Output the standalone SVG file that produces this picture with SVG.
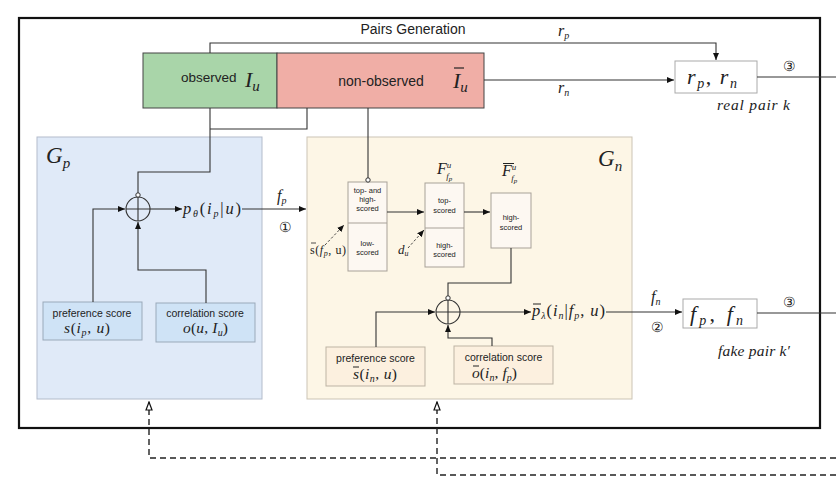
<svg xmlns="http://www.w3.org/2000/svg" width="836" height="486" viewBox="0 0 836 486">
<defs>
<style>
.sans{font-family:"Liberation Sans",Arial,sans-serif;fill:#222}
.m{font-family:"Liberation Serif","DejaVu Serif",serif;font-style:italic;fill:#222}
.up{font-style:normal}
.ln{fill:none;stroke:#333;stroke-width:1.1}
.dash{fill:none;stroke:#222;stroke-width:1.4;stroke-dasharray:6,4}
.small{font-size:7.5px}
.ib{fill:#fdf8f2;stroke:#a8a198;stroke-width:1}
.gpb{fill:#cfe3f6;stroke:#9aa9b9;stroke-width:1}
.gnb{fill:#fcf0df;stroke:#bdb3a4;stroke-width:1}
.oc{fill:#fff;stroke:#333;stroke-width:1}
</style>
<marker id="ah" markerWidth="8" markerHeight="6" refX="7" refY="3" orient="auto" markerUnits="userSpaceOnUse"><path d="M0,0 L7,3 L0,6 Z" fill="#111"/></marker>
<marker id="oa" markerWidth="10" markerHeight="8" refX="9" refY="4" orient="auto" markerUnits="userSpaceOnUse"><path d="M1,1 L9,4 L1,7 Z" fill="#fff" stroke="#111" stroke-width="1.2"/></marker>
</defs>
<rect width="836" height="486" fill="#fff"/>

<g id="frame">
<rect x="19" y="18" width="801" height="410" fill="none" stroke="#111" stroke-width="2.2"/>
<text class="sans" x="413" y="34" font-size="14" text-anchor="middle">Pairs Generation</text>
</g>

<g id="observed">
<rect x="143" y="53" width="134" height="55" fill="#a9d5a9" stroke="#444" stroke-width="1"/>
<text class="sans" x="181" y="82" font-size="13.5">observed</text>
<text class="m" x="245" y="87" font-size="22">I<tspan font-size="15" dy="4">u</tspan></text>
</g>

<g id="non-observed">
<rect x="277" y="53" width="207" height="55" fill="#f0aea6" stroke="#444" stroke-width="1"/>
<text class="sans" x="381" y="86" font-size="14" text-anchor="middle">non-observed</text>
<text class="m" x="453" y="88" font-size="22">I<tspan font-size="15" dy="4">u</tspan></text>
<line x1="454" y1="68" x2="464" y2="68" stroke="#222" stroke-width="1.2"/>
</g>

<g id="real-pair">
<rect x="675" y="61" width="82" height="32" fill="#fff" stroke="#aaa" stroke-width="1"/>
<text class="m" x="687" y="84" font-size="22" textLength="50" lengthAdjust="spacing">r<tspan font-size="14" dy="4">p</tspan><tspan class="up" dy="-4">, </tspan>r<tspan font-size="14" dy="4">n</tspan></text>
<text class="m" x="717" y="110" font-size="15.5" textLength="73" lengthAdjust="spacing">real pair k</text>
</g>

<g id="fake-pair">
<rect x="683" y="299" width="74" height="29" fill="#fff" stroke="#aaa" stroke-width="1"/>
<text class="m" x="690" y="321" font-size="22" textLength="53" lengthAdjust="spacing">f<tspan font-size="14" dy="4">p</tspan><tspan class="up" dy="-4">, </tspan>f<tspan font-size="14" dy="4">n</tspan></text>
<text class="m" x="718" y="356" font-size="15.5" textLength="72" lengthAdjust="spacing">fake pair k′</text>
</g>

<g id="G_p">
<rect x="37" y="137" width="225" height="262" fill="#e0eaf8" stroke="#b3bccb" stroke-width="1"/>
<text class="m" x="46" y="163" font-size="23">G<tspan font-size="15" dy="5">p</tspan></text>
</g>

<g id="G_p-pref">
<rect class="gpb" x="43" y="302" width="99" height="38"/>
<text class="sans" x="92" y="317" font-size="10.5" text-anchor="middle">preference score</text>
<text class="m" x="64" y="333" font-size="15.5" textLength="46" lengthAdjust="spacing">s<tspan class="up">(</tspan>i<tspan font-size="10" dy="3">p</tspan><tspan class="up" dy="-3">, </tspan>u<tspan class="up">)</tspan></text>
</g>

<g id="G_p-corr">
<rect class="gpb" x="156" y="303" width="99" height="39"/>
<text class="sans" x="205" y="317" font-size="10.5" text-anchor="middle">correlation score</text>
<text class="m" x="183" y="333" font-size="15.5" textLength="45" lengthAdjust="spacing">o<tspan class="up">(</tspan>u<tspan class="up">, </tspan>I<tspan font-size="10" dy="3">u</tspan><tspan class="up" dy="-3">)</tspan></text>
</g>

<g id="G_p-sum">
<circle cx="138" cy="209" r="12" fill="none" stroke="#333" stroke-width="1.1"/>
<path class="ln" d="M126,209 H150 M138,197 V221"/>
</g>

<g id="p_theta">
<text class="m" x="183" y="214" font-size="16.5" textLength="58" lengthAdjust="spacing">p<tspan font-size="10" dy="3">θ</tspan><tspan class="up" dy="-3">(</tspan>i<tspan font-size="10" dy="3">p</tspan><tspan class="up" dy="-3">|</tspan>u<tspan class="up">)</tspan></text>
</g>

<g id="G_n">
<rect x="307" y="137" width="325" height="262" fill="#fdf6e6" stroke="#cbc4b5" stroke-width="1"/>
<text class="m" x="598" y="166" font-size="23">G<tspan font-size="15" dy="5">n</tspan></text>
</g>

<g id="box1">
<rect class="ib" x="348" y="182" width="39" height="89"/>
<line x1="348" y1="223" x2="387" y2="223" stroke="#a8a198" stroke-width="1"/>
<text class="sans small" text-anchor="middle"><tspan x="367.5" y="193">top- and</tspan><tspan x="367.5" y="202">high-</tspan><tspan x="367.5" y="211">scored</tspan><tspan x="367.5" y="246">low-</tspan><tspan x="367.5" y="255">scored</tspan></text>
</g>

<g id="box2">
<rect class="ib" x="425" y="183" width="39" height="84"/>
<line x1="425" y1="228" x2="464" y2="228" stroke="#a8a198" stroke-width="1"/>
<text class="sans small" text-anchor="middle"><tspan x="444.5" y="203">top-</tspan><tspan x="444.5" y="213">scored</tspan><tspan x="444.5" y="248">high-</tspan><tspan x="444.5" y="257">scored</tspan></text>
<text class="m" x="437" y="174" font-size="16">F<tspan font-size="9" dy="-6">u</tspan><tspan font-size="9" dx="-5" dy="11">f</tspan><tspan font-size="7" dy="2">p</tspan></text>
</g>

<g id="box3">
<rect class="ib" x="491" y="193" width="40" height="55"/>
<text class="sans small" text-anchor="middle"><tspan x="511" y="220">high-</tspan><tspan x="511" y="230">scored</tspan></text>
<text class="m" x="502" y="176" font-size="16">F<tspan font-size="9" dy="-6">u</tspan><tspan font-size="9" dx="-5" dy="11">f</tspan><tspan font-size="7" dy="2">p</tspan></text>
<line x1="503" y1="163.5" x2="514" y2="163.5" stroke="#222" stroke-width="1"/>
</g>

<g id="s_bar_label">
<text class="m" x="310" y="254" font-size="12" textLength="36" lengthAdjust="spacing"><tspan class="up">s(</tspan>f<tspan font-size="8" dy="2">p</tspan><tspan class="up" dy="-2">, u)</tspan></text>
<line x1="311" y1="243" x2="316" y2="243" stroke="#222" stroke-width="0.8"/>
<text class="m" x="398" y="254" font-size="13">d<tspan font-size="8" dy="2">u</tspan></text>
</g>

<g id="G_n-sum">
<circle cx="448" cy="312" r="12" fill="none" stroke="#333" stroke-width="1.1"/>
<path class="ln" d="M436,312 H460 M448,300 V324"/>
</g>

<g id="p_lambda">
<text class="m" x="532" y="316" font-size="16.5" textLength="73" lengthAdjust="spacing">p<tspan font-size="10" dy="3">λ</tspan><tspan class="up" dy="-3">(</tspan>i<tspan font-size="10" dy="3">n</tspan><tspan class="up" dy="-3">|</tspan>f<tspan font-size="10" dy="3">p</tspan><tspan class="up" dy="-3">, </tspan>u<tspan class="up">)</tspan></text>
<line x1="533" y1="304" x2="541" y2="304" stroke="#222" stroke-width="1"/>
</g>

<g id="G_n-pref">
<rect class="gnb" x="326" y="347" width="99" height="39"/>
<text class="sans" x="375.5" y="362" font-size="10.5" text-anchor="middle">preference score</text>
<text class="m" x="353" y="379" font-size="15.5" textLength="44" lengthAdjust="spacing">s<tspan class="up">(</tspan>i<tspan font-size="10" dy="3">n</tspan><tspan class="up" dy="-3">, </tspan>u<tspan class="up">)</tspan></text>
<line x1="353" y1="367" x2="359" y2="367" stroke="#222" stroke-width="1"/>
</g>

<g id="G_n-corr">
<rect class="gnb" x="454" y="346" width="99" height="38"/>
<text class="sans" x="503.5" y="361" font-size="10.5" text-anchor="middle">correlation score</text>
<text class="m" x="472" y="378" font-size="15.5" textLength="45" lengthAdjust="spacing">o<tspan class="up">(</tspan>i<tspan font-size="10" dy="3">n</tspan><tspan class="up" dy="-3">, </tspan>f<tspan font-size="10" dy="3">p</tspan><tspan class="up" dy="-3">)</tspan></text>
<line x1="473" y1="366" x2="479" y2="366" stroke="#222" stroke-width="1"/>
</g>

<g id="labels">
<text class="m" x="558" y="36" font-size="16">r<tspan font-size="10" dy="3">p</tspan></text>
<text class="m" x="558" y="93" font-size="16">r<tspan font-size="10" dy="3">n</tspan></text>
<text class="m" x="277" y="201" font-size="16">f<tspan font-size="10" dy="3">p</tspan></text>
<text class="m" x="651" y="302" font-size="16">f<tspan font-size="10" dy="3">n</tspan></text>
<text class="sans" x="285" y="232" font-size="14" text-anchor="middle">①</text>
<text class="sans" x="657" y="332" font-size="14" text-anchor="middle">②</text>
<text class="sans" x="789" y="71" font-size="14" text-anchor="middle">③</text>
<text class="sans" x="789" y="307" font-size="14" text-anchor="middle">③</text>
</g>

<g id="connectors">
<path class="ln" d="M210,53 V43 H716 V60" marker-end="url(#ah)"/>
<path class="ln" d="M484,80 H674" marker-end="url(#ah)"/>
<path class="ln" d="M757,77 H836"/>
<path class="ln" d="M210,108 V172 H138 V193"/>
<path class="ln" d="M307,108 V129 H210"/>
<path class="ln" d="M368,108 V178"/>
<path class="ln" d="M93,302 V209 H125" marker-end="url(#ah)"/>
<path class="ln" d="M206,303 V270 H138 V222" marker-end="url(#ah)"/>
<path class="ln" d="M150,209 H182" marker-end="url(#ah)"/>
<path class="ln" d="M242,209 H306" marker-end="url(#ah)"/>
<path class="ln" d="M387,212 H424" marker-end="url(#ah)"/>
<path class="ln" d="M464,212 H490" marker-end="url(#ah)"/>
<path class="ln" d="M511,248 V283 H448 V296"/>
<path class="ln" d="M376,347 V312 H435" marker-end="url(#ah)"/>
<path class="ln" d="M492,346 V338 H448 V325" marker-end="url(#ah)"/>
<path class="ln" d="M460,312 H531" marker-end="url(#ah)"/>
<path class="ln" d="M606,312 H682" marker-end="url(#ah)"/>
<path class="ln" d="M757,313 H836"/>
<path d="M325,245 L344,225" fill="none" stroke="#333" stroke-width="0.9" stroke-dasharray="2.5,2" marker-end="url(#ah)"/>
<path d="M408,248 L424,230" fill="none" stroke="#333" stroke-width="0.9" stroke-dasharray="2.5,2" marker-end="url(#ah)"/>
<circle class="oc" cx="138" cy="195" r="2.2"/>
<circle class="oc" cx="368" cy="180" r="2.2"/>
<circle class="oc" cx="448" cy="298" r="2.2"/>
<path class="dash" d="M836,458 H149 V402" marker-end="url(#oa)"/>
<path class="dash" d="M836,475 H437 V402" marker-end="url(#oa)"/>
</g>
</svg>
